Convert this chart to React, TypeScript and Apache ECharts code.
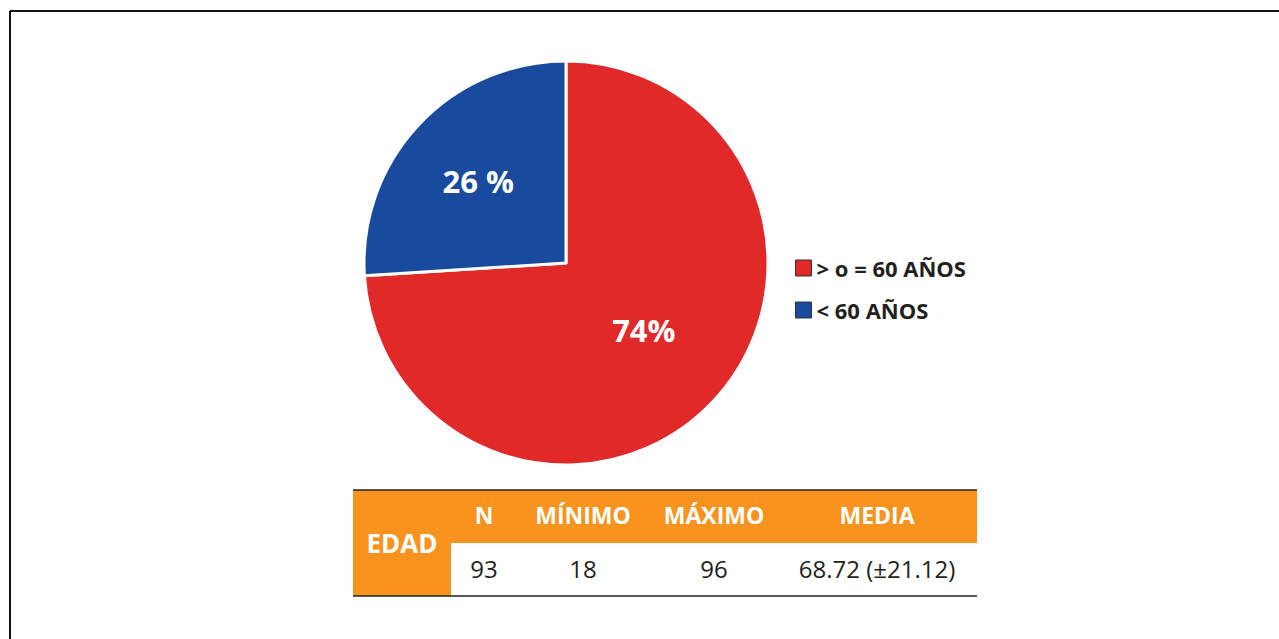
import React, { useEffect, useRef } from "react";
import * as echarts from "echarts";

const categories = ["> o = 60 AÑOS", "< 60 AÑOS"];
const values = [74, 26];
const sliceLabels = ["74%", "26 %"];
const colors = ["#E2292A", "#1A4A9E"];

const tableHeaders = ["N", "MÍNIMO", "MÁXIMO", "MEDIA"];
const tableValues = ["93", "18", "96", "68.72 (±21.12)"];
const rowLabel = "EDAD";

export default function App() {
  const ref = useRef<HTMLDivElement>(null);
  useEffect(() => {
    if (!ref.current) return;
    const chart = echarts.init(ref.current, null, { renderer: "svg" });
    const font = "'Open Sans', 'Noto Sans', sans-serif";
    const orange = "#F7931E";
    const colX = [484, 583, 714, 877];
    const graphic: any[] = [
      { type: "line", shape: { x1: 10, y1: 11, x2: 1279, y2: 11 }, style: { stroke: "#111", lineWidth: 2 } },
      { type: "line", shape: { x1: 10, y1: 11, x2: 10, y2: 639 }, style: { stroke: "#111", lineWidth: 2 } },
      { type: "rect", shape: { x: 353, y: 490, width: 624, height: 53 }, style: { fill: orange } },
      { type: "rect", shape: { x: 353, y: 490, width: 98, height: 106 }, style: { fill: orange } },
      { type: "line", shape: { x1: 353, y1: 490, x2: 977, y2: 490 }, style: { stroke: "#222", lineWidth: 1.5 } },
      { type: "line", shape: { x1: 353, y1: 596, x2: 977, y2: 596 }, style: { stroke: "#222", lineWidth: 1.5 } },
      {
        type: "text", x: 402, y: 543,
        style: { text: rowLabel, fill: "#fff", font: `bold 26px ${font}`, textAlign: "center", textVerticalAlign: "middle" },
      },
    ];
    tableHeaders.forEach((h, i) => {
      graphic.push({
        type: "text", x: colX[i], y: 515,
        style: { text: h, fill: "#fff", font: `bold 23px ${font}`, textAlign: "center", textVerticalAlign: "middle" },
      });
      graphic.push({
        type: "text", x: colX[i], y: 568,
        style: { text: tableValues[i], fill: "#231F20", font: `24px ${font}`, textAlign: "center", textVerticalAlign: "middle" },
      });
    });
    chart.setOption({
      animation: false,
      backgroundColor: "#fff",
      color: colors,
      legend: {
        orient: "vertical",
        left: 790,
        top: 252,
        itemWidth: 16,
        itemHeight: 16,
        itemGap: 20,
        icon: "rect",
        itemStyle: { borderColor: "#333", borderWidth: 1 },
        textStyle: { fontFamily: font, fontWeight: "bold", fontSize: 22, color: "#231F20" },
        data: categories,
      },
      series: [
        {
          type: "pie",
          center: [566, 263],
          radius: [0, 202],
          startAngle: 90,
          clockwise: true,
          itemStyle: { borderColor: "#fff", borderWidth: 3 },
          label: {
            position: "inside",
            color: "#fff",
            fontFamily: font,
            fontWeight: "bold",
            fontSize: 31,
            formatter: (p: any) => sliceLabels[p.dataIndex],
          },
          labelLine: { show: false },
          emphasis: { disabled: true },
          data: categories.map((c, i) => ({
            name: c,
            value: values[i],
            label: i === 0 ? { offset: [2, -4] } : { offset: [-12, -11] },
          })),
        },
      ],
      graphic,
    });
    return () => chart.dispose();
  }, []);
  return <div ref={ref} style={{ position: "absolute", left: 0, top: 0, width: 1279, height: 639 }} />;
}
